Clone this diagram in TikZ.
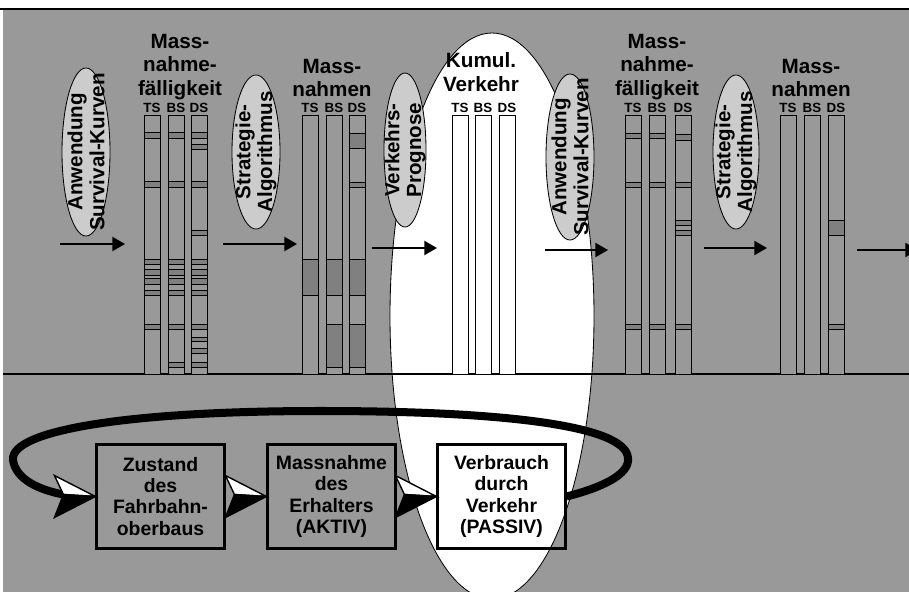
\documentclass[tikz,border=0pt]{standalone}
\usepackage{fontspec}
\setmainfont{Liberation Sans}
\usetikzlibrary{arrows.meta,shapes.geometric}

\definecolor{bggray}{gray}{0.6}
\definecolor{ovalgray}{gray}{0.8}
\definecolor{bandgray}{gray}{0.5}

\newcommand\saeule[4]{%
  \fill[#4] (#2,115) rectangle ++(16,259);
  \draw[colline] (#2,115) rectangle ++(16,259);
  \node[collabel] (#1) at (#2+8,108) {#3};
}
\newcommand\baender[2]{%
  \foreach \a/\b in {#2} {\filldraw[band] (#1,\a) rectangle (#1+16,\b);}
}

\tikzset{
  fatarrow/.pic={
    \filldraw[fill=white, line width=1pt, line join=miter] (-41,-21) -- (0,0) -- (-32,-2) -- cycle;
    \filldraw[fill=black, line width=1pt, line join=miter] (-32,-2) -- (0,0) -- (-41,21) -- cycle;
  }
}

\begin{document}
\begin{tikzpicture}[x=0.025cm, y=-0.025cm,
  title/.style={font=\bfseries\fontsize{14.7}{16.8}\selectfont, align=center, inner sep=0pt},
  oval/.style={ellipse, draw, fill=ovalgray, line width=0.6pt, inner sep=0pt},
  ovaltext/.style={rotate=90, font=\bfseries\fontsize{14.6}{15.6}\selectfont, align=center, inner sep=0pt},
  collabel/.style={font=\bfseries\fontsize{9.5}{10}\selectfont, inner sep=0pt},
  band/.style={fill=bandgray, draw=black, line width=0.6pt},
  colline/.style={draw=black, line width=0.6pt},
  flow/.style={line width=1.4pt, -{Triangle[length=9pt,width=10pt]}},
  kasten/.style={draw, line width=1.5pt, minimum width=3.2cm, minimum height=2.6cm, align=center, inner sep=0pt, font=\bfseries\fontsize{13.8}{15}\selectfont},
  kreislauf/.style={line width=5.7pt}
]
  \clip (0,0) rectangle (909,592);
  \fill[white] (0,0) rectangle (909,592);
  \fill[bggray] (3,9) rectangle (909,592);
  \draw[line width=0.8pt] (0,9) -- (909,9);

  \filldraw[fill=white, line width=0.6pt] (492,316) ellipse [x radius=102, y radius=283];
  \draw[line width=0.8pt] (3,374) -- (909,374);

  % Massnahmefaelligkeit
  \saeule{f1ts}{144}{TS}{bggray}
  \saeule{f1bs}{168}{BS}{bggray}
  \saeule{f1ds}{191}{DS}{bggray}
  \baender{144}{132/138, 181/187, 259/264, 269/275, 278/284, 290/295, 324/329}
  \baender{168}{132/138, 181/187, 259/264, 269/275, 278/284, 290/295, 324/329, 362/367}
  \baender{191}{132/138, 144/149, 181/187, 230/235, 259/264, 269/275, 278/284, 290/295, 324/329, 337/341, 348/353, 362/367}

  % Massnahmen
  \saeule{m1ts}{302}{TS}{bggray}
  \saeule{m1bs}{326}{BS}{bggray}
  \saeule{m1ds}{349}{DS}{bggray}
  \baender{302}{259/295}
  \baender{326}{259/295, 324/367}
  \baender{349}{133/148, 182/187, 259/295, 324/367}

  % Kumul. Verkehr
  \saeule{k1ts}{452}{TS}{white}
  \saeule{k1bs}{475}{BS}{white}
  \saeule{k1ds}{499}{DS}{white}

  \saeule{f2ts}{625}{TS}{bggray}
  \saeule{f2bs}{649}{BS}{bggray}
  \saeule{f2ds}{675}{DS}{bggray}
  \baender{625}{133/138, 182/187, 324/329}
  \baender{649}{133/138, 182/187, 324/329}
  \baender{675}{134/140, 182/187, 220/225, 230/235, 324/329}

  \saeule{m2ts}{780}{TS}{bggray}
  \saeule{m2bs}{804}{BS}{bggray}
  \saeule{m2ds}{828}{DS}{bggray}
  \baender{828}{220/235, 324/329}

  \node[title] (t1) at (180,67) {Mass-\\nahme-\\fälligkeit};
  \node[title] (t2) at (332,78) {Mass-\\nahmen};
  \node[title] (t3) at (481,72) {Kumul.\\Verkehr};
  \node[title] (t4) at (657,67) {Mass-\\nahme-\\fälligkeit};
  \node[title] (t5) at (811,78) {Mass-\\nahmen};

  \node[oval, minimum width=1.2cm, minimum height=4.2cm] (e1) at (86,152) {};
  \node[oval, minimum width=1.2cm, minimum height=3.85cm] (e2) at (256,152) {};
  \node[oval, minimum width=1.05cm, minimum height=3.85cm] (e3) at (405,150) {};
  \node[oval, minimum width=1.2cm, minimum height=4.15cm] (e4) at (570,157) {};
  \node[oval, minimum width=1.15cm, minimum height=3.85cm] (e5) at (736,152) {};
  \node[ovaltext] (o1) at (e1) {Anwendung\\Survival-Kurven};
  \node[ovaltext] (o2) at (e2) {Strategie-\\Algorithmus};
  \node[ovaltext] (o3) at (e3) {Verkehrs-\\Prognose};
  \node[ovaltext] (o4) at (e4) {Anwendung\\Survival-Kurven};
  \node[ovaltext] (o5) at (e5) {Strategie-\\Algorithmus};

  \coordinate (a1) at (60,244);  \coordinate (b1) at (125,244);
  \coordinate (a2) at (223,244); \coordinate (b2) at (297,244);
  \coordinate (a3) at (372,248); \coordinate (b3) at (437,248);
  \coordinate (a4) at (545,250); \coordinate (b4) at (608,250);
  \coordinate (a5) at (704,248); \coordinate (b5) at (767,248);
  \coordinate (a6) at (857,250); \coordinate (b6) at (918,250);
  \foreach \i in {1,...,6} {\draw[flow] (a\i) -- (b\i);}

  \node[kasten, fill=bggray] (z) at (160.5,496.5) {Zustand\\des\\Fahrbahn-\\oberbaus};
  \node[kasten, fill=bggray] (m) at (331.5,496.5) {Massnahme\\des\\Erhalters\\(AKTIV)};
  \node[kasten] (v) at (501.5,496.5) {Verbrauch\\durch\\Verkehr\\(PASSIV)};

  \path (z.west) ++(-32,-2) coordinate (zin);
  \draw[kreislauf] (v.east) .. controls (600,488) and (630,475) .. (628,458)
    .. controls (626,425) and (500,411) .. (320,411)
    .. controls (130,411) and (10,430) .. (13,460)
    .. controls (16,480) and (40,490) .. (zin);

  \pic at (z.west) {fatarrow};
  \pic at (m.west) {fatarrow};
  \pic at (v.west) {fatarrow};
\end{tikzpicture}
\end{document}
